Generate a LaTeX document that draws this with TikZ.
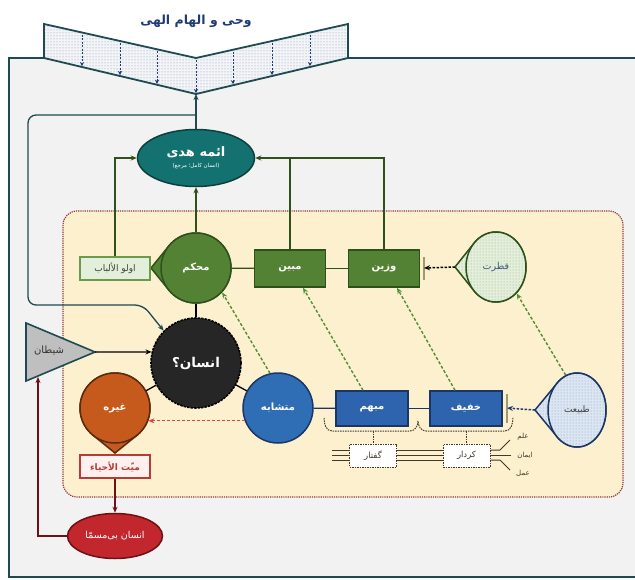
\documentclass[tikz,border=0pt]{standalone}
\usepackage{fontspec}
\usetikzlibrary{shapes.geometric,patterns,calc,arrows.meta}
\newfontfamily\fa[Script=Arabic]{DejaVu Sans}
\TeXXeTstate=1
\definecolor{framec}{HTML}{1E4A52}
\definecolor{bgc}{HTML}{F2F2F2}
\definecolor{vfill}{HTML}{F2F4F7}
\definecolor{dotc}{HTML}{8593A3}
\definecolor{navy}{HTML}{1F3A75}
\definecolor{aemehfill}{HTML}{137270}
\definecolor{aemehdraw}{HTML}{0D3F3D}
\definecolor{beigefill}{HTML}{FDF0CF}
\definecolor{beigedraw}{HTML}{8C3A3A}
\definecolor{gfill}{HTML}{548235}
\definecolor{gdark}{HTML}{2E5119}
\definecolor{olufill}{HTML}{E2EFDA}
\definecolor{oludraw}{HTML}{6A9A4A}
\definecolor{bfill}{HTML}{2E64AD}
\definecolor{bdark}{HTML}{1B3664}
\definecolor{mfill}{HTML}{2F6DB5}
\definecolor{efill}{HTML}{262626}
\definecolor{ofill}{HTML}{C55A1C}
\definecolor{odark}{HTML}{5C2A0C}
\definecolor{rfill}{HTML}{C1272D}
\definecolor{rdark}{HTML}{6E1014}
\definecolor{sfill}{HTML}{BFBFBF}
\definecolor{fitfill}{HTML}{E3EFDA}
\definecolor{fitdot}{HTML}{92AE84}
\definecolor{tabfill}{HTML}{DCE6F2}
\definecolor{tabdot}{HTML}{8499BE}
\definecolor{gdash}{HTML}{4F8F35}
\definecolor{redd}{HTML}{D9453F}
\definecolor{brownl}{HTML}{3F3A2A}
\definecolor{slate}{HTML}{3D5A80}
\newcommand\droptip[7]{%
  \path[#7] ($(#1)+(#4:#6)$) -- ($(#1)+({#4+#5}:{#2} and {#3})$)
    arc[start angle={#4+#5}, end angle={#4+360-#5}, x radius=#2, y radius=#3] -- cycle;}
\tikzset{
  lbl/.style={font=\fa\bfseries\fontsize{10}{11}\selectfont, text=white},
  greenbox/.style={rectangle, draw=gdark, line width=1.5pt, fill=gfill, minimum width=71, minimum height=37, inner sep=0pt, lbl},
  bluebox/.style={rectangle, draw=bdark, line width=1.5pt, fill=bfill, minimum width=72, minimum height=35, inner sep=0pt, lbl},
  greencirc/.style={circle, draw=gdark, line width=1.5pt, fill=gfill, minimum size=70, inner sep=0pt, lbl},
  smallbox/.style={rectangle, draw=brownl, line width=1pt, dash pattern=on 1.5pt off 1pt, fill=white, minimum width=47, minimum height=23, inner sep=0pt, font=\fa\fontsize{8.5}{9}\selectfont, text=brownl},
  conn/.style={line width=1.3pt, -{Stealth[length=6pt,width=5pt]}},
  gdashed/.style={draw=gdash, line width=1.4pt, dash pattern=on 3pt off 2pt, -{Stealth[length=6pt,width=5pt]}},
  tiny/.style={font=\fa\fontsize{7}{8}\selectfont, text=brownl},
}
\begin{document}
\begin{tikzpicture}[x=1pt,y=-1pt]
\clip (0,0) rectangle (635,579);
% outer frame
\draw[framec, line width=2.2pt, fill=bgc] (9,58) rectangle (660,577);
% revelation V
\draw[preaction={fill=vfill}, pattern=dots, pattern color=dotc, draw=framec, line width=1.8pt, line join=miter]
  (44,24) -- (196,58) -- (348,24) -- (348,58) -- (196,94) -- (44,58) -- cycle;
\foreach \xx in {82,120,157,196,233,272,310}{
  \pgfmathsetmacro\dd{152-abs(\xx-196)}
  \pgfmathsetmacro\yt{24+\dd*34/152+2}
  \pgfmathsetmacro\yb{58+\dd*36/152-1}
  \draw[navy, line width=0.9pt, dash pattern=on 2pt off 1.5pt, -{Stealth[length=4pt,width=4pt]}] (\xx,\yt) -- (\xx,\yb);
}
\node[font=\fa\bfseries\fontsize{12.5}{14}\selectfont, text=navy] (title) at (196,21) {\beginR وحی و الهام الهی\endR};
\coordinate (vb) at (196,94);
\coordinate (j) at (196,115);
% beige region
\draw[rounded corners=14, fill=beigefill, draw=beigedraw, line width=1.2pt, dash pattern=on 1.2pt off 1pt] (63,211) rectangle (623,497);

% tips (drawn beneath circles)
\droptip{196,268}{35}{35}{180}{38}{45}{fill=gfill, draw=gdark, line width=1.5pt}
\droptip{115,408}{35}{35}{90}{38}{45}{fill=ofill, draw=odark, line width=1.5pt}
\droptip{496,267}{30}{35}{180}{42}{41}{preaction={fill=fitfill}, pattern=dots, pattern color=fitdot, draw=gdark, line width=1.5pt}
\droptip{577,410}{29}{37}{180}{42}{42}{preaction={fill=tabfill}, pattern=dots, pattern color=tabdot, draw=bdark, line width=1.5pt}

% nodes
\node[ellipse, draw=aemehdraw, line width=1.5pt, fill=aemehfill, minimum width=117, minimum height=57, inner sep=0pt, text=white, align=center] (aemeh) at (196,158)
  {{\fa\bfseries\fontsize{13}{15}\selectfont\beginR ائمه هدی\endR}\\[-1pt]{\fa\fontsize{5.5}{6}\selectfont\beginR (انسان کامل؛ مرجع)\endR}};
\node[greencirc] (mohkam) at (196,268) {\beginR محکم\endR};
\node[greenbox] (mobin) at (290,268.5) {\beginR مبین\endR};
\node[greenbox] (vazin) at (384,268.5) {\beginR وزین\endR};
\node[rectangle, draw=oludraw, line width=1.2pt, fill=olufill, minimum width=70, minimum height=23, inner sep=0pt, font=\fa\fontsize{9}{10}\selectfont, text=black!75] (olu) at (115,268.5) {\beginR اولو الألباب\endR};
\node[ellipse, preaction={fill=fitfill}, pattern=dots, pattern color=fitdot, draw=gdark, line width=1.5pt, minimum width=60, minimum height=70, inner sep=0pt, font=\fa\fontsize{9.5}{10}\selectfont, text=slate] (fetrat) at (496,267) {\beginR فطرت\endR};
\node[ellipse, preaction={fill=tabfill}, pattern=dots, pattern color=tabdot, draw=bdark, line width=1.5pt, minimum width=58, minimum height=74, inner sep=0pt, font=\fa\fontsize{9}{10}\selectfont, text=black!75] (tabiat) at (577,410) {\beginR طبیعت\endR};
\node[circle, draw=black, line width=1.6pt, dash pattern=on 2.5pt off 1pt, fill=efill, minimum size=90, inner sep=0pt, font=\fa\bfseries\fontsize{13.5}{15}\selectfont, text=white] (ensan) at (196,363) {\beginR انسان؟\endR};
\node[circle, draw=bdark, line width=1.5pt, fill=mfill, minimum size=70, inner sep=0pt, lbl] (motashabeh) at (278,408) {\beginR متشابه\endR};
\node[bluebox] (mobham) at (372,408.5) {\beginR مبهم\endR};
\node[bluebox] (khafif) at (466,408.5) {\beginR خفیف\endR};
\node[circle, draw=odark, line width=1.5pt, fill=ofill, minimum size=70, inner sep=0pt, lbl] (gheyreh) at (115,408) {\beginR غیره\endR};
\node[rectangle, draw=redd!85!black, line width=1.5pt, fill=red!6, minimum width=70, minimum height=23, inner sep=0pt, font=\fa\bfseries\fontsize{9}{10}\selectfont, text=redd!85!black] (meyyet) at (115,466.5) {\beginR میّت الأحیاء\endR};
\node[ellipse, draw=rdark, line width=1.5pt, fill=rfill, minimum width=95, minimum height=45, inner sep=0pt, font=\fa\fontsize{9.5}{10}\selectfont, text=white] (bimosamma) at (115,536) {\beginR انسان بی‌مسمّا\endR};
% satan triangle
\draw[fill=sfill, draw=framec, line width=1.6pt, line join=miter] (26,323) -- (95,352) -- (26,381) -- cycle;
\node[font=\fa\fontsize{10}{11}\selectfont, text=black!80] (sheytan) at (49,351) {\beginR شیطان\endR};
\coordinate (stip) at (95,352);
\coordinate (sb) at (38,377);
% speech/deed boxes
\node[smallbox] (goftar) at (373,455.5) {\beginR گفتار\endR};
\node[smallbox] (kerdar) at (466.5,455.5) {\beginR کردار\endR};
\node[tiny] (elm) at (523,437) {\beginR علم\endR};
\node[tiny] (iman) at (525,455) {\beginR ایمان\endR};
\node[tiny] (amal) at (523,473) {\beginR عمل\endR};

% connectors
\draw[conn, draw=framec] (aemeh) -- (vb);
\draw[conn, draw=framec, rounded corners=8] (j) -- (28,115) -- (28,305) -- (143,305) -- (ensan.135);
\draw[conn, draw=gdark] (olu.north) |- (aemeh.west);
\draw[conn, draw=gdark] (vazin.north) |- (aemeh.east);
\draw[line width=1.3pt, draw=gdark] (mobin.north) -- (mobin.north |- aemeh.east);
\draw[conn, draw=gdark] (mohkam) -- (aemeh);
\draw[line width=1.3pt, draw=gdark] (mohkam) -- (mobin);
\draw[line width=1.3pt, draw=gdark] (mobin) -- (vazin);
\draw[line width=1.3pt, draw=bdark] (motashabeh) -- (mobham);
\draw[line width=1.3pt, draw=bdark] (mobham) -- (khafif);
\draw[line width=1.3pt, draw=black] (mohkam) -- (ensan);
\draw[line width=1.3pt, draw=black] (ensan) -- (motashabeh);
\draw[line width=1.3pt, draw=black] (ensan) -- (gheyreh);
\draw[conn, draw=black] (stip) -- (ensan.166);
\draw[conn, draw=rdark] (meyyet) -- (bimosamma);
\draw[conn, draw=rdark] (bimosamma.west) -| (sb);
\draw[line width=1.3pt, draw=redd, dash pattern=on 3pt off 2pt, -{Stealth[length=6pt,width=5pt]}] (motashabeh.201.8) -- (gheyreh.-21.8);
% green dashed influences
\draw[gdashed] (motashabeh.103) -- (mohkam.-43);
\draw[gdashed] ($(mobham.north)+(-9,0)$) -- ($(mobin.south)+(13,0)$);
\draw[gdashed] ($(khafif.north)+(-11,0)$) -- ($(vazin.south)+(13,0)$);
\draw[gdashed] (tabiat.108) -- (fetrat.-52);
% nature / fitrah arrows with bars
\coordinate (fbar) at (424,268);
\coordinate (tbar) at (507,408);
\draw[line width=1.2pt, draw=black!45!olive!60] (424,257) -- (424,280);
\draw[line width=1.2pt, draw=black!45!olive!60] (507,394) -- (507,423);
\draw[line width=1.5pt, draw=black, dash pattern=on 2.5pt off 1.5pt, -{Stealth[length=6pt,width=5pt]}] ($(fetrat.center)+(-41,0)$) -- (fbar);
\draw[line width=1.5pt, draw=navy, dash pattern=on 2.5pt off 1.5pt, -{Stealth[length=6pt,width=5pt]}] ($(tabiat.center)+(-42,0)$) -- (tbar);
% braces
\draw[brownl, line width=1pt, dash pattern=on 1.5pt off 1pt]
  (324,418) to[out=-90,in=180] (332,431) -- (410,431) to[out=0,in=-90] (418,421)
  to[out=-90,in=180] (426,431) -- (505,431) to[out=0,in=-90] (513,417);
\draw[brownl, line width=1pt, dash pattern=on 1.5pt off 1pt] (373,431) -- (goftar.north);
\draw[brownl, line width=1pt, dash pattern=on 1.5pt off 1pt] (466.5,431) -- (kerdar.north);
% triple lines
\foreach \dy in {-5,0,5}{
  \draw[brownl, line width=1pt] (332,455+\dy) -- (goftar.west |- {0,455+\dy});
  \draw[brownl, line width=1pt] (goftar.east |- {0,455+\dy}) -- (kerdar.west |- {0,455+\dy});
}
\draw[brownl, line width=1pt] (kerdar.east |- {0,450}) -- (500,450) -- (510,440);
\draw[brownl, line width=1pt] (kerdar.east |- {0,455}) -- (511,455);
\draw[brownl, line width=1pt] (kerdar.east |- {0,460}) -- (500,460) -- (510,470);
\end{tikzpicture}
\end{document}
